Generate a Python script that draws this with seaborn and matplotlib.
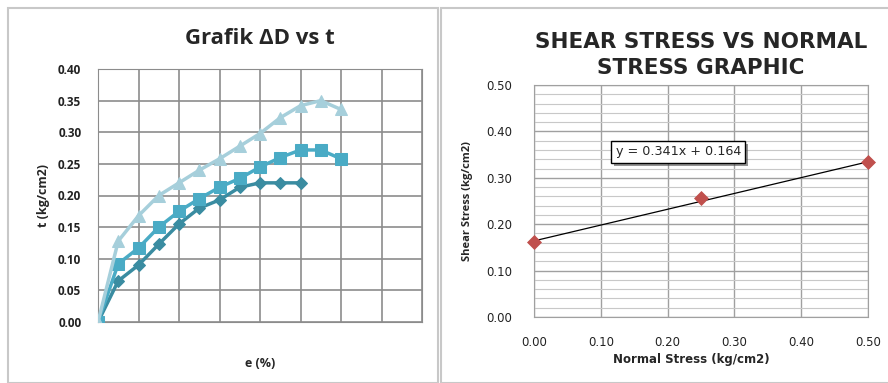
import numpy as np
import pandas as pd
from matplotlib import pyplot as plt
from matplotlib import patheffects
from matplotlib.patches import Rectangle
from matplotlib.ticker import MultipleLocator
import seaborn as sns

# left chart: three shear tests, points every half grid column
step_a = [0, 1, 2, 3, 4, 5, 6, 7, 8, 9, 10]
tau_a = [0, 0.065, 0.090, 0.123, 0.155, 0.180, 0.193, 0.213, 0.220, 0.220, 0.220]
step_b = [0, 1, 2, 3, 4, 5, 6, 7, 8, 9, 10, 11, 12]
tau_b = [0, 0.092, 0.117, 0.150, 0.175, 0.195, 0.213, 0.227, 0.245, 0.260, 0.272, 0.272, 0.258]
step_c = [0, 1, 2, 3, 4, 5, 6, 7, 8, 9, 10, 11, 12]
tau_c = [0, 0.128, 0.168, 0.200, 0.220, 0.240, 0.258, 0.278, 0.298, 0.323, 0.342, 0.350, 0.336]

# right chart: peak shear vs normal stress
normal = [0.0, 0.25, 0.50]
shear = [0.162, 0.257, 0.334]
slope, intercept = 0.341, 0.164

sns.set_style("white")
plt.rcParams['font.family'] = ['Open Sans', 'DejaVu Sans']

fig = plt.figure(figsize=(8.88, 3.83), dpi=100)

# panel frames like the spreadsheet chart areas
fig.patches.append(Rectangle((8/888, 0), 430/888, 1 - 8/383, transform=fig.transFigure,
                             fill=False, edgecolor='#c8c8c8', linewidth=1.5))
fig.patches.append(Rectangle((441/888, 0), 460/888, 1 - 8/383, transform=fig.transFigure,
                             fill=False, edgecolor='#c8c8c8', linewidth=1.5))

# ---- left chart
ax1 = fig.add_axes([98/888, 1 - 322/383, 324/888, 253/383])
df_a = pd.DataFrame({'x': step_a, 'y': tau_a})
df_b = pd.DataFrame({'x': step_b, 'y': tau_b})
df_c = pd.DataFrame({'x': step_c, 'y': tau_c})
sns.lineplot(data=df_a, x='x', y='y', ax=ax1, color='#3a8ca1', marker='D', markersize=6,
             markeredgecolor='#3a8ca1', linewidth=2.5, zorder=3)
sns.lineplot(data=df_b, x='x', y='y', ax=ax1, color='#4aabc5', marker='s', markersize=9,
             markeredgecolor='#4aabc5', linewidth=2.5, zorder=4)
sns.lineplot(data=df_c, x='x', y='y', ax=ax1, color='#a6cfdb', marker='^', markersize=9,
             markeredgecolor='#a6cfdb', linewidth=2.5, zorder=5)
ax1.set_xlim(0, 16)
ax1.set_ylim(0, 0.40)
ax1.xaxis.set_major_locator(MultipleLocator(2))
ax1.set_xticklabels([])
ax1.set_yticks(np.arange(0, 0.41, 0.05))
ax1.set_yticklabels([f'{v:.2f}' for v in np.arange(0, 0.41, 0.05)], fontsize=8.5,
                    fontweight='bold', color='#222222')
ax1.grid(True, color='#8c8c8c', linewidth=1.2)
ax1.tick_params(axis='y', length=4, color='#8c8c8c', pad=8)
ax1.tick_params(axis='x', length=0)
for s in ax1.spines.values():
    s.set_color('#8c8c8c')
ax1.set_xlabel('e (%)', fontsize=9, fontweight='bold', labelpad=22)
ax1.set_ylabel('t (kg/cm2)', fontsize=9, fontweight='bold', labelpad=6)
ax1.set_title('Grafik ΔD vs t', fontsize=16, fontweight='bold', pad=18)

# ---- right chart
ax2 = fig.add_axes([534/888, 1 - 317/383, 334/888, 232/383])
ax2.yaxis.set_minor_locator(MultipleLocator(0.02))
ax2.grid(True, which='minor', axis='y', color='#c8c8c8', linewidth=0.8)
ax2.grid(True, which='major', color='#a0a0a0', linewidth=1.0)
line_x = np.array([0.0, 0.5])
ax2.plot(line_x, slope * line_x + intercept, color='black', linewidth=0.9, zorder=3)
sns.scatterplot(x=normal, y=shear, ax=ax2, marker='D', s=50, color='#c0504d',
                edgecolor='#c0504d', zorder=4, clip_on=False)
ax2.set_xlim(0, 0.5)
ax2.set_ylim(0, 0.5)
ticks = np.arange(0, 0.51, 0.1)
ax2.set_xticks(ticks)
ax2.set_yticks(ticks)
ax2.set_xticklabels([f'{v:.2f}' for v in ticks], fontsize=8.5, family='DejaVu Sans', color='#222222')
ax2.set_yticklabels([f'{v:.2f}' for v in ticks], fontsize=8.5, family='DejaVu Sans', color='#222222')
ax2.tick_params(axis='x', which='major', length=4, color='#8c8c8c', pad=10)
ax2.tick_params(axis='y', which='major', length=4, color='#8c8c8c', pad=12)
ax2.tick_params(axis='both', which='minor', length=0)
for s in ax2.spines.values():
    s.set_color('#a0a0a0')
ax2.set_xlabel('Normal Stress (kg/cm2)', fontsize=8.5, fontweight='bold', family='DejaVu Sans')
ax2.xaxis.set_label_coords(0.47, -0.155)
ax2.set_ylabel('Shear Stress (kg/cm2)', fontsize=8, fontweight='bold', labelpad=9)
ax2.set_title('SHEAR STRESS VS NORMAL\nSTRESS GRAPHIC', fontsize=15.5, fontweight='bold',
              pad=8, linespacing=1.35, family='DejaVu Sans')
eq = ax2.text(0.216, 0.356, f'y = {slope}x + {intercept}', fontsize=9.2, ha='center', va='center',
              family='DejaVu Sans',
              bbox=dict(boxstyle='square,pad=0.35', facecolor='white', edgecolor='black', linewidth=1),
              zorder=6)
eq.get_bbox_patch().set_path_effects([patheffects.withSimplePatchShadow(offset=(2, -2), alpha=0.6)])

fig.savefig('out.png', dpi=100)
